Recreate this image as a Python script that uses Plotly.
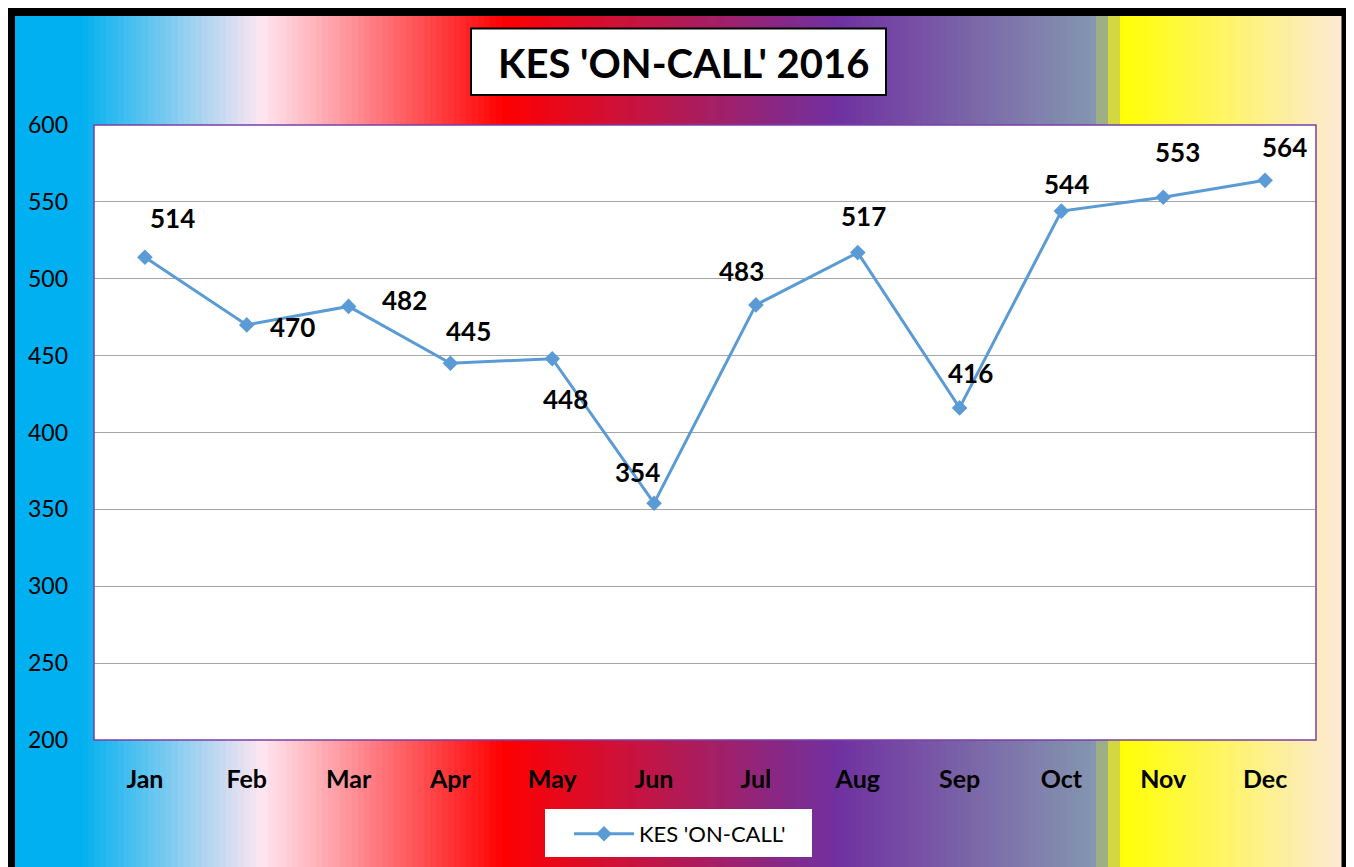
import plotly.graph_objects as go

months = ["Jan", "Feb", "Mar", "Apr", "May", "Jun", "Jul", "Aug", "Sep", "Oct", "Nov", "Dec"]
values = [514, 470, 482, 445, 448, 354, 483, 517, 416, 544, 553, 564]
series_name = "KES 'ON-CALL'"
title_text = "KES 'ON-CALL' 2016"
y_ticks = [200, 250, 300, 350, 400, 450, 500, 550, 600]
# label offsets (px) relative to each point
label_dx = [28, 46, 56, 18, 13, -17, -14, 6, 11, 5, 14, 19]
label_dy = [39, -2, 6, 32, -40, 31, 34, 37, 35, 27, 45, 33]

OFF = 8                      # page body margin in the browser
SW, SH = 1354, 867           # screenshot size
W, H = SW - OFF, SH - OFF    # figure size
L, R, T, B = 94, 1316, 125, 740   # plot area in screenshot pixels

def px(x):
    return (x - L) / (R - L)

def py(y):
    return (B - y) / (B - T)

def hex2rgb(h):
    h = h.lstrip('#')
    return tuple(int(h[i:i + 2], 16) for i in (0, 2, 4))

stops = [
    (14, "#00B0F0"), (80, "#00B0F0"), (262, "#FFE6F0"), (504, "#FF0000"),
    (835, "#7030A0"), (1096, "#8497B0"), (1096.01, "#9FAF85"), (1107, "#9FAF85"),
    (1107.01, "#D4D840"), (1117, "#D4D840"), (1117.01, "#FFFF00"), (1345, "#FDE9D9"),
]

def color_at(x):
    if x <= stops[0][0]:
        return stops[0][1]
    for (x0, c0), (x1, c1) in zip(stops, stops[1:]):
        if x0 <= x <= x1:
            t = (x - x0) / (x1 - x0) if x1 > x0 else 0
            a, b = hex2rgb(c0), hex2rgb(c1)
            r = [round(a[i] + (b[i] - a[i]) * t) for i in range(3)]
            return "rgb(%d,%d,%d)" % tuple(r)
    return stops[-1][1]

shapes = []
step = 6
x = 10
while x < 1346:
    x2 = min(x + step, 1346)
    shapes.append(dict(type="rect", xref="paper", yref="paper", x0=px(x), x1=px(x2 + 0.6),
                       y0=py(880), y1=py(12), fillcolor=color_at((x + x2) / 2),
                       line=dict(width=0), layer="below"))
    x = x2

# plot area white
shapes.append(dict(type="rect", xref="paper", yref="paper", x0=0, x1=1, y0=0, y1=1,
                   fillcolor="white", line=dict(width=0), layer="below"))
# plot area border
shapes.append(dict(type="rect", xref="paper", yref="paper", x0=0, x1=1, y0=0, y1=1,
                   fillcolor="rgba(0,0,0,0)", line=dict(color="#7A3FA8", width=1.5), layer="above"))
# outer black frame
shapes.append(dict(type="rect", xref="paper", yref="paper", x0=px(11), x1=px(1345.5), y0=py(890), y1=py(12),
                   fillcolor="rgba(0,0,0,0)", line=dict(color="black", width=8), layer="above"))
# title box
shapes.append(dict(type="rect", xref="paper", yref="paper", x0=px(471), x1=px(886), y0=py(95), y1=py(28.5),
                   fillcolor="white", line=dict(color="black", width=2), layer="above"))
# legend box
shapes.append(dict(type="rect", xref="paper", yref="paper", x0=px(545), x1=px(812), y0=py(857), y1=py(809),
                   fillcolor="white", line=dict(width=0), layer="above"))

annotations = [dict(xref="paper", yref="paper", x=px(683), y=py(63), text="<b>" + title_text + "</b>",
                    showarrow=False, font=dict(family="Lato", size=40, color="black"),
                    xanchor="center", yanchor="middle")]
for m, v, dx, dy in zip(months, values, label_dx, label_dy):
    annotations.append(dict(x=m, y=v, xref="x", yref="y", text="<b>%d</b>" % v, showarrow=False,
                            xshift=dx, yshift=dy, font=dict(family="Lato", size=26, color="black"),
                            xanchor="center", yanchor="middle"))

fig = go.Figure()
fig.add_trace(go.Scatter(x=months, y=values, mode="lines+markers", name=series_name,
                         line=dict(color="#5B9BD5", width=3),
                         marker=dict(symbol="diamond", size=12, color="#5B9BD5")))

fig.update_layout(
    width=W, height=H,
    margin=dict(l=L - OFF, r=SW - R, t=T - OFF, b=SH - B, pad=0),
    paper_bgcolor="white", plot_bgcolor="white",
    shapes=shapes, annotations=annotations,
    showlegend=True,
    legend=dict(x=px(569), y=py(813), xanchor="left", yanchor="top", bgcolor="rgba(0,0,0,0)",
                font=dict(family="Lato", size=22, color="black"), borderwidth=0,
                itemwidth=60),
    xaxis=dict(range=[-0.5, 11.5], showgrid=False, zeroline=False, showline=False,
               tickfont=dict(family="Lato", size=25, color="black", weight="bold"),
               ticks="", ticklabelstandoff=22),
    yaxis=dict(range=[200, 600], tickvals=y_ticks, showgrid=True, gridcolor="#A6A6A6", gridwidth=1,
               zeroline=False, showline=False,
               tickfont=dict(family="Lato", size=23, color="black"),
               ticks="", ticklabelstandoff=25),
)

fig.write_html("out.html")
